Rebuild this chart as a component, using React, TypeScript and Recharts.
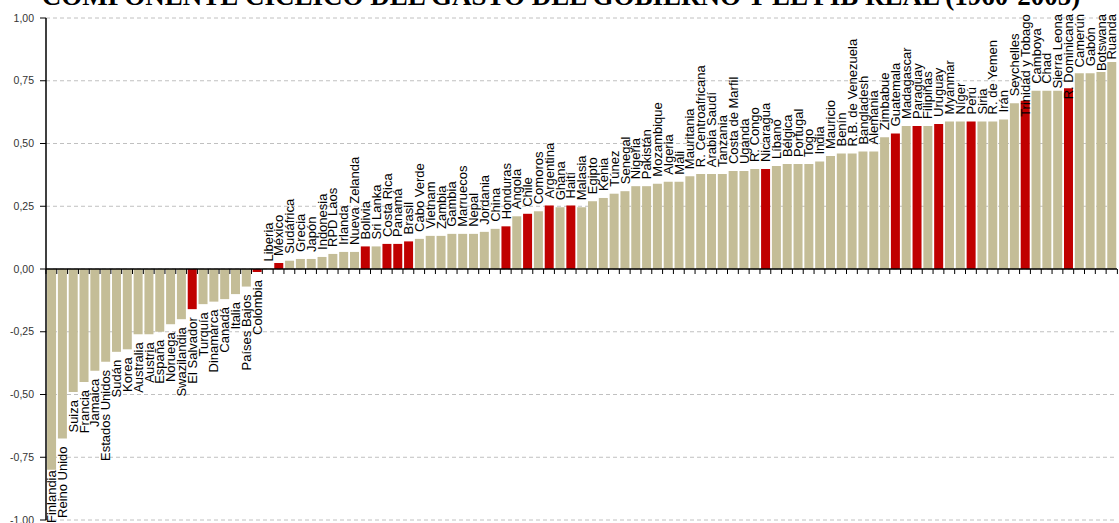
import { BarChart, Bar, XAxis, YAxis, CartesianGrid, ReferenceLine, Cell, LabelList } from 'recharts';

const countries: string[] = [
  'Finlandia', 'Reino Unido', 'Suiza', 'Francia', 'Jamaica', 'Estados Unidos', 'Sudán', 'Korea',
  'Australia', 'Austria', 'España', 'Noruega', 'Swazilandia', 'El Salvador', 'Turquía', 'Dinamarca',
  'Canadá', 'Italia', 'Países Bajos', 'Colombia', 'Liberia', 'México', 'Sudáfrica', 'Grecia', 'Japón',
  'Indonesia', 'RPD Laos', 'Irlanda', 'Nueva Zelanda', 'Bolivia', 'Sri Lanka', 'Costa Rica', 'Panamá',
  'Brasil', 'Cabo Verde', 'Vietnam', 'Zambia', 'Gambia', 'Marruecos', 'Nepal', 'Jordania', 'China',
  'Honduras', 'Angola', 'Chile', 'Comoros', 'Argentina', 'Ghana', 'Haití', 'Malasia', 'Egipto', 'Kenia',
  'Túnez', 'Senegal', 'Nigeria', 'Pakistán', 'Mozambique', 'Algeria', 'Mali', 'Mauritania',
  'R. Centroafricana', 'Arabia Saudí', 'Tanzania', 'Costa de Marfil', 'Uganda', 'R. Congo', 'Nicaragua',
  'Líbano', 'Bélgica', 'Portugal', 'Togo', 'India', 'Mauricio', 'Benín', 'R.B. de Venezuela',
  'Bangladesh', 'Alemania', 'Zimbabue', 'Guatemala', 'Madagascar', 'Paraguay', 'Filipinas', 'Uruguay',
  'Myanmar', 'Níger', 'Perú', 'Siria', 'R. de Yemen', 'Irán', 'Seychelles', 'Trinidad y Tobago',
  'Camboya', 'Chad', 'Sierra Leona', 'R. Dominicana', 'Camerún', 'Gabón', 'Botswana', 'Ruanda',
];

const values: number[] = [
  -0.80, -0.675, -0.49, -0.45, -0.405, -0.37, -0.33, -0.32,
  -0.26, -0.26, -0.25, -0.22, -0.20, -0.16, -0.14, -0.13,
  -0.12, -0.10, -0.07, -0.012, 0.002, 0.024, 0.033, 0.04, 0.04,
  0.048, 0.06, 0.068, 0.068, 0.09, 0.09, 0.10, 0.10,
  0.11, 0.12, 0.132, 0.132, 0.14, 0.14, 0.14, 0.148, 0.16,
  0.17, 0.21, 0.22, 0.23, 0.253, 0.246, 0.253, 0.246, 0.27, 0.283,
  0.30, 0.31, 0.33, 0.33, 0.34, 0.348, 0.348, 0.37,
  0.378, 0.378, 0.378, 0.39, 0.39, 0.398, 0.398,
  0.41, 0.418, 0.418, 0.418, 0.428, 0.45, 0.46, 0.46,
  0.468, 0.468, 0.525, 0.54, 0.57, 0.57, 0.57, 0.578,
  0.588, 0.588, 0.588, 0.588, 0.588, 0.596, 0.66, 0.67,
  0.71, 0.71, 0.71, 0.72, 0.78, 0.78, 0.785, 0.825,
];

const highlighted: string[] = [
  'El Salvador', 'Colombia', 'México', 'Bolivia', 'Costa Rica', 'Panamá', 'Brasil', 'Honduras', 'Chile',
  'Argentina', 'Haití', 'Nicaragua', 'Guatemala', 'Paraguay', 'Uruguay', 'Perú', 'Trinidad y Tobago',
  'R. Dominicana',
];

const yTicks: number[] = [-1, -0.75, -0.5, -0.25, 0, 0.25, 0.5, 0.75, 1];

const title = 'COMPONENTE CÍCLICO DEL GASTO DEL GOBIERNO Y EL PIB REAL (1960-2005)';

const data = countries.map((name, i) => ({ name, value: values[i] }));

const LABEL_FONT = '13px Arial, "Liberation Sans", sans-serif';
let measureCtx: CanvasRenderingContext2D | null = null;
function textWidth(s: string) {
  if (!measureCtx) measureCtx = document.createElement('canvas').getContext('2d');
  if (!measureCtx) return s.length * 6.5;
  measureCtx.font = LABEL_FONT;
  return measureCtx.measureText(s).width;
}

// rotated label at the bar end + small tick at the category boundary on the zero line
function BarLabel(props: any) {
  const { x, y, width, height, index } = props;
  const v = values[index];
  const name = countries[index];
  const top = Math.min(y, y + height);
  const bottom = Math.max(y, y + height);
  const zero = v >= 0 ? bottom : top;
  const gap = width * 0.125;
  const tx = x + width / 2 + 4.6;
  const w = textWidth(name);
  let ty: number;
  let anchor: 'start' | 'end';
  if (v >= 0) {
    ty = Math.max(top - 7, 14 + w);
    anchor = 'start';
  } else {
    ty = Math.min(bottom + 8, 523 - w);
    anchor = 'end';
  }
  return (
    <g>
      <line x1={x - gap} x2={x - gap} y1={zero} y2={zero + 5} stroke="#000" strokeWidth={1} />
      {index === countries.length - 1 && (
        <line x1={x + width + gap} x2={x + width + gap} y1={zero} y2={zero + 5} stroke="#000" strokeWidth={1} />
      )}
      <text
        x={tx}
        y={ty}
        transform={`rotate(-90 ${tx} ${ty})`}
        textAnchor={anchor}
        fontSize={13}
        fontFamily='Arial, "Liberation Sans", sans-serif'
        fill="#000"
      >
        {name}
      </text>
    </g>
  );
}

export default function App() {
  return (
    <div style={{ position: 'absolute', left: 0, top: 0, width: 1119, height: 523, background: '#fff', overflow: 'hidden' }}>
      <BarChart
        width={1119}
        height={523}
        data={data}
        margin={{ top: 18, right: 2, left: 0, bottom: 3 }}
        barCategoryGap="10%"
      >
        <CartesianGrid vertical={false} strokeDasharray="4 3" stroke="#c0c0c0" />
        <XAxis dataKey="name" hide />
        <YAxis
          type="number"
          domain={[-1, 1]}
          ticks={yTicks}
          width={46}
          tickSize={6}
          tickMargin={6}
          interval={0}
          axisLine={{ stroke: '#000', strokeWidth: 1.5 }}
          tickLine={{ stroke: '#000' }}
          tick={{ fill: '#333', fontSize: 10.5, fontFamily: 'Arial, "Liberation Sans", sans-serif' }}
          tickFormatter={(v: number) => v.toFixed(2).replace('.', ',')}
        />
        <ReferenceLine y={0} stroke="#000" strokeWidth={1.5} />
        <Bar dataKey="value" isAnimationActive={false}>
          {data.map((d) => (
            <Cell key={d.name} fill={highlighted.includes(d.name) ? '#c00000' : '#c4bd97'} />
          ))}
          <LabelList dataKey="value" content={<BarLabel />} />
        </Bar>
      </BarChart>
      <svg width={1119} height={30} style={{ position: 'absolute', left: 0, top: 0 }}>
        <text
          x={561}
          y={5}
          textAnchor="middle"
          fontSize={27}
          fontWeight="bold"
          fontFamily='"Times New Roman", "Liberation Serif", serif'
          fill="#000"
        >
          {title}
        </text>
      </svg>
    </div>
  );
}
